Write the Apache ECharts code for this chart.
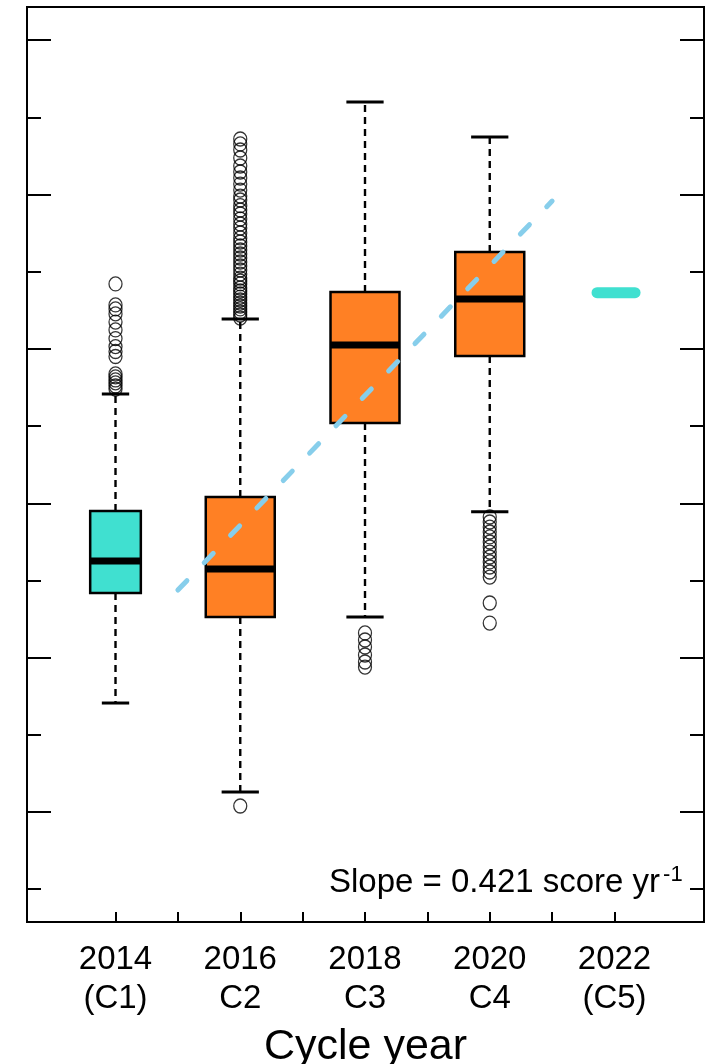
<!DOCTYPE html>
<html>
<head>
<meta charset="utf-8">
<script src="https://cdn.jsdelivr.net/npm/echarts@6/dist/echarts.min.js"></script>
<style>
  html, body { margin: 0; padding: 0; background: #fff; }
  #chart { width: 717px; height: 1064px; }
</style>
</head>
<body>
<div id="chart"></div>
<script>
// cycle years with a box, and the box statistics (score units)
const boxYears = [2014, 2016, 2018, 2020];
const whiskerLow = [2.706, 2.130, 3.263, 3.945];
const quart1 = [3.419, 3.263, 4.520, 4.954];
const medians = [3.626, 3.574, 5.025, 5.323];
const quart3 = [3.950, 4.041, 5.369, 5.628];
const whiskerHigh = [4.708, 5.194, 6.600, 6.373];

// outliers per cycle
const outC1 = [5.421, 5.285, 5.259, 5.227, 5.174, 5.123, 5.067, 5.015, 4.983, 4.951,
               4.838, 4.819, 4.799, 4.780, 4.760, 4.740];
const outC2 = [6.360, 6.328, 6.289, 6.237, 6.185, 6.146, 6.107, 6.068, 6.029, 5.990,
               5.965, 5.928, 5.900, 5.874, 5.842, 5.809, 5.783, 5.751, 5.719, 5.693,
               5.667, 5.641, 5.615, 5.589, 5.563, 5.537, 5.511, 5.485, 5.459, 5.440,
               5.421, 5.395, 5.375, 5.356, 5.336, 5.317, 5.297, 5.278, 5.259, 5.239,
               5.220, 5.200, 2.039];
const outC3 = [3.160, 3.114, 3.069, 3.017, 2.972, 2.939];
const outC4 = [3.911, 3.879, 3.846, 3.814, 3.782, 3.749, 3.717, 3.684, 3.652, 3.620,
               3.587, 3.555, 3.522, 3.354, 3.224];

// C5 (2022) single value
const c5Year = [2022];
const c5Value = [5.364];

// fitted trend line
const trendYears = [2015, 2021];
const trendValues = [3.438, 5.958];

// axis ticks and labels
const xTickYears = [2014, 2015, 2016, 2017, 2018, 2019, 2020, 2021, 2022];
const xLabelYears = [2014, 2016, 2018, 2020, 2022];
const xLabelCycle = ['(C1)', 'C2', 'C3', 'C4', '(C5)'];
const yMajorTicks = [2, 3, 4, 5, 6, 7];
const yMinorTicks = [1.5, 2.5, 3.5, 4.5, 5.5, 6.5];

// styles
const FONT = 'Liberation Sans, Arial, sans-serif';
const TURQ = '#40E0D0';
const ORANGE = '#FF8024';
const boxFill = [TURQ, ORANGE, ORANGE, ORANGE];
const boxHalf = [0.406, 0.553, 0.553, 0.553]; // in years
const X_MIN = 2012.581, X_MAX = 2023.435;
const Y_MIN = 1.2874, Y_MAX = 7.2151;

const boxData = boxYears.map((y, i) => [y, whiskerLow[i], quart1[i], medians[i], quart3[i], whiskerHigh[i]]);

function renderBox(params, api) {
  const i = params.dataIndex;
  const x = api.value(0);
  const hw = boxHalf[i];
  const cw = hw * 0.54;
  const cx = api.coord([x, 0])[0];
  const left = api.coord([x - hw, 0])[0];
  const right = api.coord([x + hw, 0])[0];
  const cl = api.coord([x - cw, 0])[0];
  const cr = api.coord([x + cw, 0])[0];
  const yLow = api.coord([x, api.value(1)])[1];
  const yQ1 = api.coord([x, api.value(2)])[1];
  const yMed = api.coord([x, api.value(3)])[1];
  const yQ3 = api.coord([x, api.value(4)])[1];
  const yHigh = api.coord([x, api.value(5)])[1];
  const dash = { stroke: '#000', lineWidth: 2.4, lineDash: [7, 5] };
  const cap = { stroke: '#000', lineWidth: 3 };
  return {
    type: 'group',
    children: [
      { type: 'line', shape: { x1: cx, y1: yQ3, x2: cx, y2: yHigh }, style: dash },
      { type: 'line', shape: { x1: cx, y1: yQ1, x2: cx, y2: yLow }, style: dash },
      { type: 'line', shape: { x1: cl, y1: yHigh, x2: cr, y2: yHigh }, style: cap },
      { type: 'line', shape: { x1: cl, y1: yLow, x2: cr, y2: yLow }, style: cap },
      { type: 'rect', shape: { x: left, y: yQ3, width: right - left, height: yQ1 - yQ3 },
        style: { fill: boxFill[i], stroke: '#000', lineWidth: 2.5 } },
      { type: 'line', shape: { x1: left, y1: yMed, x2: right, y2: yMed },
        style: { stroke: '#000', lineWidth: 7 } }
    ]
  };
}

function renderDash(params, api) {
  const x = api.value(0);
  const y = api.coord([x, api.value(1)])[1];
  const l = api.coord([x - 0.28, 0])[0];
  const r = api.coord([x + 0.33, 0])[0];
  return { type: 'line', shape: { x1: l, y1: y, x2: r, y2: y },
           style: { stroke: TURQ, lineWidth: 11, lineCap: 'round' } };
}

const outlierData = []
  .concat(outC1.map(v => [2014, v]))
  .concat(outC2.map(v => [2016, v]))
  .concat(outC3.map(v => [2018, v]))
  .concat(outC4.map(v => [2020, v]));

function yAxisDef(pos, vals, len) {
  return {
    type: 'value', position: pos, min: Y_MIN, max: Y_MAX,
    axisLine: { show: false }, splitLine: { show: false }, axisLabel: { show: false },
    axisTick: { show: true, inside: true, length: len, customValues: vals,
                lineStyle: { color: '#000', width: 2 } }
  };
}

let option = {
  animation: false,
  grid: { left: 27, right: 13, top: 7, bottom: 142, containLabel: false, outerBoundsMode: 'none',
          show: true, borderColor: '#000', borderWidth: 2, backgroundColor: '#fff' },
  xAxis: {
    type: 'value', min: X_MIN, max: X_MAX,
    axisLine: { show: false }, splitLine: { show: false },
    axisTick: { show: true, inside: true, length: 10, customValues: xTickYears,
                lineStyle: { color: '#000', width: 2 } },
    axisLabel: {
      customValues: xLabelYears, margin: 18, color: '#000',
      fontFamily: FONT, fontSize: 33, lineHeight: 39,
      formatter: v => v + '\n' + xLabelCycle[xLabelYears.indexOf(Math.round(v))]
    },
    name: 'Cycle year', nameLocation: 'middle', nameGap: 104,
    nameTextStyle: { color: '#000', fontFamily: FONT, fontSize: 43 }
  },
  yAxis: [
    yAxisDef('left', yMajorTicks, 24),
    yAxisDef('left', yMinorTicks, 14),
    yAxisDef('right', yMajorTicks, 24),
    yAxisDef('right', yMinorTicks, 14)
  ],
  series: [
    { type: 'custom', renderItem: renderBox, data: boxData, z: 2 },
    { type: 'scatter', data: outlierData, symbol: 'circle', symbolSize: [13, 14], z: 3,
      itemStyle: { color: 'rgba(0,0,0,0)', borderColor: '#000', borderWidth: 1.3 } },
    { type: 'custom', renderItem: renderDash, data: c5Year.map((y, i) => [y, c5Value[i]]), z: 3 },
    { type: 'line', data: trendYears.map((y, i) => [y, trendValues[i]]), showSymbol: false, z: 4,
      lineStyle: { color: '#87CEEB', width: 5, type: [13, 25], cap: 'round' } }
  ],
  graphic: [{
    type: 'text', x: 329, y: 864, z: 10,
    style: {
      text: '{m|Slope = 0.421 score yr}{s|-1}',
      verticalAlign: 'top',
      rich: {
        m: { fontFamily: FONT, fontSize: 33, fill: '#000', lineHeight: 38 },
        s: { fontFamily: FONT, fontSize: 22, fill: '#000', verticalAlign: 'top', lineHeight: 20,
             padding: [0, 0, 0, 3] }
      }
    }
  }]
};

let chart = echarts.init(document.getElementById('chart'), null, { renderer: 'canvas' });
chart.setOption(option);
</script>
</body>
</html>
